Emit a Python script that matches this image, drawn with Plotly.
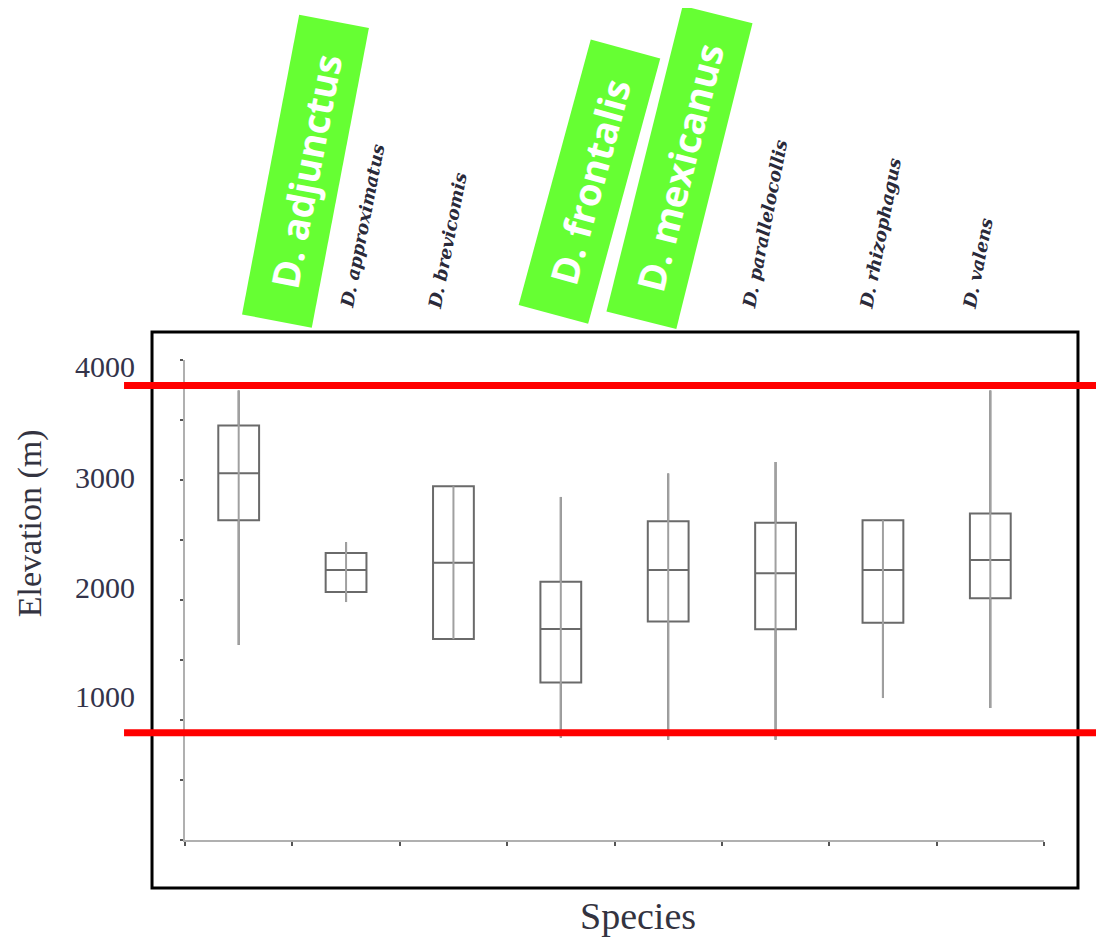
import plotly.graph_objects as go

# ---- data ----
species = ["D. adjunctus", "D. approximatus", "D. brevicomis", "D. frontalis",
           "D. mexicanus", "D. parallelocollis", "D. rhizophagus", "D. valens"]
lower_whisker = [1626, 1983, 1674, 852, 836, 836, 1183, 1099]
q1_values     = [2665, 2066, 1674, 1312, 1820, 1756, 1811, 2014]
median_values = [3056, 2249, 2310, 1759, 2249, 2222, 2249, 2333]
q3_values     = [3455, 2391, 2948, 2152, 2657, 2643, 2665, 2721]
upper_whisker = [3746, 2482, 2948, 2859, 3054, 3150, 2665, 3746]

highlighted = ["D. adjunctus", "D. frontalis", "D. mexicanus"]
red_line_levels = [3788, 894]

ytick_values = [0, 500, 1000, 1500, 2000, 2500, 3000, 3500, 4000]
ytick_labels = ["4000", "3000", "2000", "1000"]
ytick_label_pos = [3942, 3023, 2108, 1193]

# ---- geometry (page pixels; the page body has an 8px margin) ----
OFF = 8
W, H = 1096, 933
PL, PR, PT, PB = 185, 1044.5, 359.5, 840.5   # plot area in page pixels
L = PL - OFF
T = PT - OFF
R = W - (PR - OFF)
B = H - (PB - OFF)
PW, PH = PR - PL, PB - PT


def px(x):
    return (x - PL) / PW


def py(y):
    return (PB - y) / PH


fig = go.Figure()

# whisker line running through each box
wx, wy = [], []
for s, lo, hi in zip(species, lower_whisker, upper_whisker):
    wx += [s, s, None]
    wy += [lo, hi, None]
fig.add_trace(go.Scatter(x=wx, y=wy, mode="lines",
                         line=dict(color="#a0a0a0", width=2),
                         hoverinfo="skip", showlegend=False))

fig.add_trace(go.Box(
    x=species, q1=q1_values, median=median_values, q3=q3_values,
    lowerfence=lower_whisker, upperfence=upper_whisker,
    line=dict(color="#6a6a6a", width=2), fillcolor="rgba(0,0,0,0)",
    width=0.38, whiskerwidth=0, boxpoints=False, showlegend=False))

shapes = []
# frame
shapes.append(dict(type="rect", xref="paper", yref="paper",
                   x0=px(152), x1=px(1078.5), y0=py(888.5), y1=py(331.5),
                   line=dict(color="black", width=3), layer="above"))
# red lines
for lvl in red_line_levels:
    shapes.append(dict(type="line", xref="paper", yref="y",
                       x0=px(124), x1=px(1104), y0=lvl, y1=lvl,
                       line=dict(color="#ff0000", width=7), layer="above"))

annotations = []
# y tick labels
for lab, pos in zip(ytick_labels, ytick_label_pos):
    annotations.append(dict(text=lab, xref="paper", yref="y", x=px(137), y=pos,
                            xanchor="right", yanchor="middle", showarrow=False,
                            font=dict(family="Liberation Serif", size=30, color="#33334a")))
# axis titles
annotations.append(dict(text="Species", xref="paper", yref="paper", x=px(638), y=py(917),
                        xanchor="center", yanchor="middle", showarrow=False,
                        font=dict(family="Liberation Serif", size=38, color="#333340")))
annotations.append(dict(text="Elevation (m)", xref="paper", yref="paper", x=px(30), y=py(523),
                        xanchor="center", yanchor="middle", showarrow=False, textangle=-90,
                        font=dict(family="Liberation Serif", size=34, color="#333340")))

# small species labels
small_shift = {"D. approximatus": 16, "D. brevicomis": -6, "D. parallelocollis": -11,
               "D. rhizophagus": -3, "D. valens": -13}
for s in species:
    if s in highlighted:
        continue
    annotations.append(dict(text=s, xref="x", yref="paper", x=s, y=py(312),
                            xshift=small_shift.get(s, 0),
                            xanchor="center", yanchor="bottom", showarrow=False, textangle=-79,
                            font=dict(family="DejaVu Serif", size=18, color="#2a2a3a",
                                      style="italic", weight="bold")))

# highlighted green labels
green_geom = {
    "D. adjunctus": dict(cx=305.4, cy=170.5, w=305, h=71, ang=-79.2),
    "D. frontalis": dict(cx=589.5, cy=181.0, w=275, h=72, ang=-74.8),
    "D. mexicanus": dict(cx=680.0, cy=166.3, w=315, h=72, ang=-76.0),
}
for s in highlighted:
    g = green_geom[s]
    annotations.append(dict(text=s, xref="paper", yref="paper", x=px(g["cx"]), y=py(g["cy"]),
                            xanchor="center", yanchor="middle", showarrow=False,
                            textangle=g["ang"], width=g["w"], height=g["h"], align="center",
                            valign="middle", bgcolor="#66ff33", borderpad=0, borderwidth=0,
                            font=dict(family="Open Sans", size=38, color="white", weight="bold")))

fig.update_layout(
    width=W, height=H,
    margin=dict(l=L, r=R, t=T, b=B, pad=0),
    paper_bgcolor="white", plot_bgcolor="white",
    showlegend=False,
    shapes=shapes, annotations=annotations,
    xaxis=dict(type="category", categoryorder="array", categoryarray=species,
               range=[-0.5, 7.5], tickson="boundaries", ticks="outside", ticklen=4,
               tickwidth=2, tickcolor="#555555", showticklabels=False,
               showline=True, linecolor="#b0b0b0", linewidth=2, showgrid=False,
               zeroline=False, fixedrange=True),
    yaxis=dict(range=[0, 4000], tickvals=ytick_values, ticks="outside", ticklen=3,
               tickwidth=2, tickcolor="#555555", showticklabels=False,
               showline=True, linecolor="#b0b0b0", linewidth=2, showgrid=False,
               zeroline=False, fixedrange=True),
)

fig.write_html("out.html")
